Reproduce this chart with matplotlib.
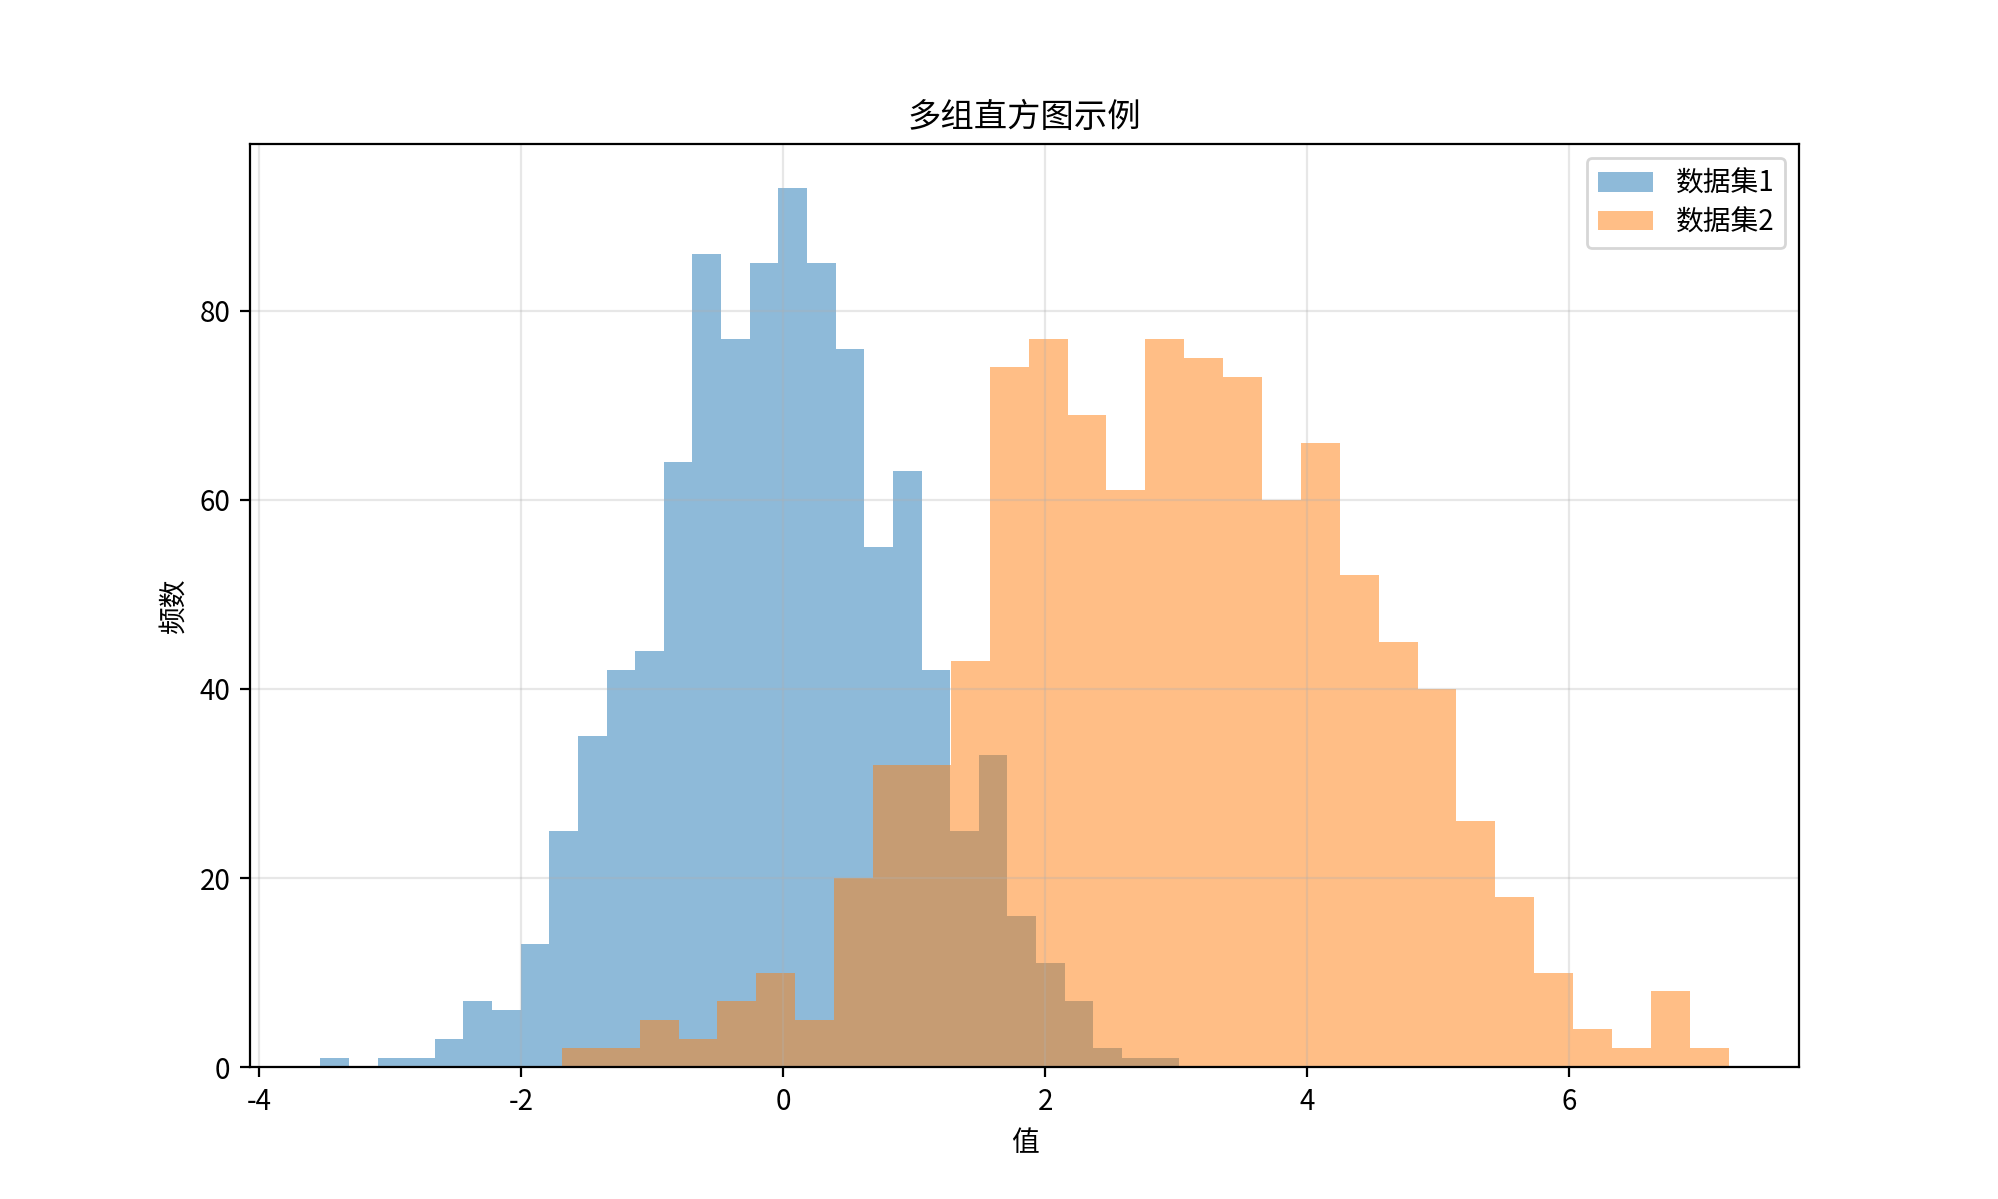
import numpy as np
import matplotlib
matplotlib.use("Agg")
import matplotlib.pyplot as plt

plt.rcParams['font.family'] = ['Noto Sans CJK SC', 'DejaVu Sans']
plt.rcParams['axes.unicode_minus'] = False

# Data (30 equal-width bins per set)
labels = ['数据集1', '数据集2']

set1_range = (-3.535, 3.024)
set1_counts = [1, 0, 1, 1, 3, 7, 6, 13, 25, 35, 42, 44, 64, 86, 77,
               85, 93, 85, 76, 55, 63, 42, 25, 33, 16, 11, 7, 2, 1, 1]

set2_range = (-1.690, 7.220)
set2_counts = [2, 2, 5, 3, 7, 10, 5, 20, 32, 32, 43, 74, 77, 69, 61,
               77, 75, 73, 60, 66, 52, 45, 40, 26, 18, 10, 4, 2, 8, 2]

title = '多组直方图示例'
xlabel = '值'
ylabel = '频数'

fig, ax = plt.subplots(figsize=(1999 / 200, 1199 / 200), dpi=200)

for rng, counts, lab in [(set1_range, set1_counts, labels[0]),
                         (set2_range, set2_counts, labels[1])]:
    edges = np.linspace(rng[0], rng[1], len(counts) + 1)
    ax.hist(edges[:-1], bins=edges, weights=counts, alpha=0.5, label=lab)

ax.set_title(title)
ax.set_xlabel(xlabel)
ax.set_ylabel(ylabel)
ax.legend(loc='upper right', labelspacing=0.3)
ax.grid(True, alpha=0.3)

fig.savefig('out.png', dpi=200)
